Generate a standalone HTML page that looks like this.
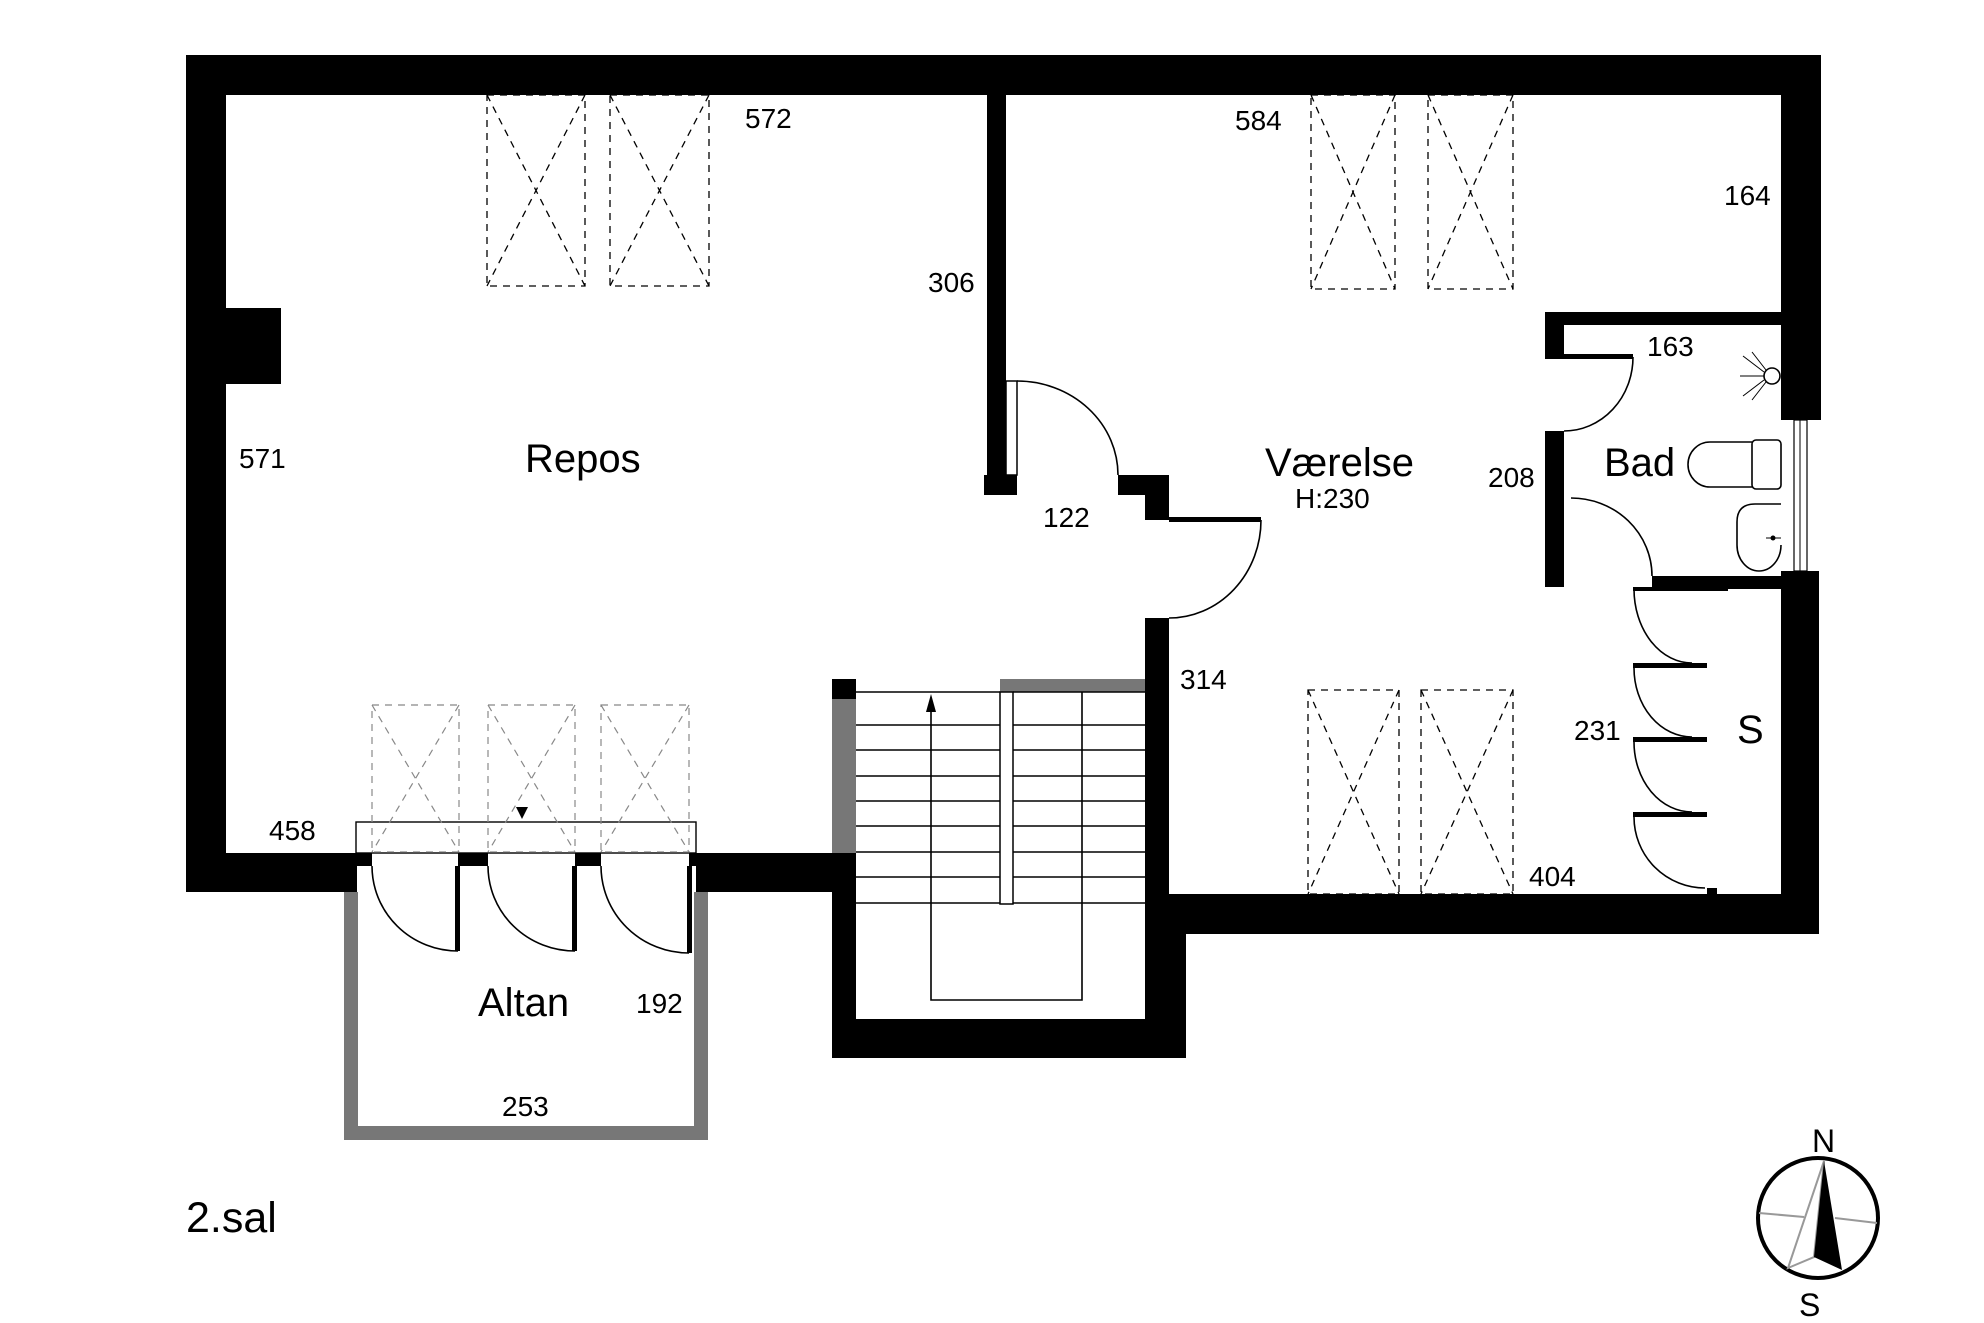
<!DOCTYPE html>
<html><head><meta charset="utf-8"><style>
html,body{margin:0;padding:0;background:#fff;}
svg{display:block;}
text{font-family:"Liberation Sans",Arial,sans-serif;fill:#000;}
</style></head><body>
<svg width="1984" height="1323" viewBox="0 0 1984 1323" xmlns="http://www.w3.org/2000/svg">
<rect width="1984" height="1323" fill="#fff"/>
<g fill="#000">
<!-- outer top -->
<rect x="186" y="55" width="1635" height="40"/>
<!-- left wall -->
<rect x="186" y="55" width="40" height="837"/>
<rect x="226" y="308" width="55" height="76"/>
<!-- bottom left wall -->
<rect x="186" y="853" width="171" height="39"/>
<rect x="354" y="853" width="18" height="13"/>
<rect x="458" y="853" width="30" height="13"/>
<rect x="575" y="853" width="26" height="13"/>
<rect x="689" y="853" width="8" height="13"/>
<rect x="696" y="853" width="160" height="39"/>
<!-- door leaves altan -->
<rect x="455" y="866" width="5" height="85"/>
<rect x="572" y="866" width="5" height="85"/>
<rect x="687" y="866" width="5" height="87"/>
<!-- right wall -->
<rect x="1781" y="55" width="40" height="365"/>
<rect x="1781" y="571" width="38" height="363"/>
<!-- interior wall repos/vaerelse -->
<rect x="987" y="95" width="19" height="400"/>
<rect x="984" y="475" width="33" height="20"/>
<rect x="1118" y="475" width="51" height="20"/>
<rect x="1145" y="495" width="24" height="25"/>
<rect x="1169" y="517" width="92" height="5"/>
<rect x="1145" y="618" width="24" height="316"/>
<rect x="1145" y="934" width="41" height="124"/>
<!-- bottom wall vaerelse -->
<rect x="1169" y="894" width="650" height="40"/>
<!-- stair -->
<rect x="832" y="679" width="24" height="20"/>
<rect x="832" y="853" width="24" height="205"/>
<rect x="832" y="1019" width="354" height="39"/>
<!-- bad walls -->
<rect x="1545" y="312" width="236" height="13"/>
<rect x="1545" y="312" width="19" height="45"/>
<rect x="1545" y="354" width="88" height="5"/>
<rect x="1545" y="431" width="19" height="156"/>
<rect x="1652" y="576" width="129" height="13"/>
<rect x="1633" y="587" width="95" height="4"/>
<rect x="1707" y="888" width="10" height="7"/>
<!-- closet bars -->
<rect x="1633" y="663" width="74" height="5"/>
<rect x="1633" y="737" width="74" height="5"/>
<rect x="1633" y="812" width="74" height="5"/>
<rect x="1006" y="381" width="11" height="94" fill="#fff" stroke="#000" stroke-width="1.5"/>
</g>
<!-- gray walls -->
<g fill="#777">
<rect x="832" y="699" width="24" height="154"/>
<rect x="1000" y="679" width="145" height="13"/>
<rect x="344" y="892" width="14" height="248"/>
<rect x="694" y="892" width="14" height="248"/>
<rect x="344" y="1126" width="364" height="14"/>
</g>
<rect x="1000" y="692" width="13" height="212" fill="#fff" stroke="#000" stroke-width="1.5"/>
<!-- door arcs -->
<g fill="none" stroke="#000" stroke-width="1.6">
<path d="M372,866 A86,85 0 0 0 458,951"/>
<path d="M488,866 A87,85 0 0 0 575,951"/>
<path d="M601,866 A88,87 0 0 0 689,953"/>
<path d="M1017,381 A101,94 0 0 1 1118,475"/>
<path d="M1261,520 A92,98 0 0 1 1169,618"/>
<path d="M1633,357 A69,74 0 0 1 1564,431"/>
<path d="M1571,498 A81,78 0 0 1 1652,576"/>
<path d="M1634,589 A58,74 0 0 0 1692,663"/>
<path d="M1634,668 A58,69 0 0 0 1692,737"/>
<path d="M1634,742 A58,70 0 0 0 1692,812"/>
<path d="M1634,817 A71,71 0 0 0 1705,888"/>
<rect x="1794" y="420" width="13" height="151" stroke-width="1.2"/>
<line x1="1800" y1="420" x2="1800" y2="571" stroke-width="1"/>
<!-- threshold -->
<rect x="356" y="822" width="340" height="31" stroke-width="1.4"/>
<!-- stairs -->
<g stroke-width="1.6">
<line x1="856" y1="692" x2="1000" y2="692"/>
<line x1="1013" y1="692" x2="1145" y2="692"/>
<path d="M856,725H1000M856,750H1000M856,776H1000M856,801H1000M856,826H1000M856,852H1000M856,877H1000M856,903H1000"/>
<path d="M1013,725H1145M1013,750H1145M1013,776H1145M1013,801H1145M1013,826H1145M1013,852H1145M1013,877H1145M1013,903H1145"/>
<path d="M931,703V1000H1082V692"/>
</g>
<!-- toilet/sink -->
<rect x="1752" y="440" width="29" height="49" rx="4"/>
<path d="M1752,442 H1710 A22,22.5 0 0 0 1710,487 H1752"/>
<path d="M1781,504 H1755 Q1737,504 1737,522 V545 A22,26 0 0 0 1781,545"/>
<!-- shower -->
<circle cx="1772" cy="376" r="8"/>
<path d="M1764,376H1740M1764,372L1743,356M1764,380L1743,396M1766,370L1752,352M1766,382L1752,400" stroke-width="1"/>
</g>
<circle cx="1771" cy="510" r="0" />
<circle cx="1773" cy="538" r="2.5" fill="#000"/>
<line x1="1766" y1="538" x2="1781" y2="538" stroke="#000" stroke-width="1"/>
<!-- arrow stair -->
<polygon points="931,694 926,712 936,712" fill="#000"/>
<polygon points="516,807 528,807 522,819" fill="#000"/>
<!-- skylights -->
<g fill="none" stroke="#000" stroke-width="1.3" stroke-dasharray="7,6">
<rect x="487" y="95" width="98" height="191"/><path d="M487,95L585,286M585,95L487,286"/>
<rect x="610" y="95" width="99" height="191"/><path d="M610,95L709,286M709,95L610,286"/>
<rect x="1311" y="95" width="84" height="194"/><path d="M1311,95L1395,289M1395,95L1311,289"/>
<rect x="1428" y="95" width="85" height="194"/><path d="M1428,95L1513,289M1513,95L1428,289"/>
<rect x="1308" y="690" width="91" height="204"/><path d="M1308,690L1399,894M1399,690L1308,894"/>
<rect x="1421" y="690" width="92" height="204"/><path d="M1421,690L1513,894M1513,690L1421,894"/>
</g>
<g fill="none" stroke="#888" stroke-width="1.2" stroke-dasharray="7,6">
<rect x="372" y="705" width="87" height="147"/><path d="M372,705L459,852M459,705L372,852"/>
<rect x="488" y="705" width="87" height="147"/><path d="M488,705L575,852M575,705L488,852"/>
<rect x="601" y="705" width="88" height="147"/><path d="M601,705L689,852M689,705L601,852"/>
</g>
<!-- compass -->
<circle cx="1818" cy="1218" r="60" fill="none" stroke="#000" stroke-width="4"/>
<g stroke="#999" stroke-width="2" fill="none">
<path d="M1759,1213L1804,1217M1835,1218L1877,1223"/>
<path d="M1824,1161L1788,1268L1814,1257Z"/>
</g>
<polygon points="1824,1161 1842,1270 1814,1257" fill="#000"/>
<!-- labels -->
<g font-size="28">
<text x="745" y="128">572</text>
<text x="928" y="292">306</text>
<text x="239" y="468">571</text>
<text x="1235" y="130">584</text>
<text x="1724" y="205">164</text>
<text x="1647" y="356">163</text>
<text x="1488" y="487">208</text>
<text x="1043" y="527">122</text>
<text x="1180" y="689">314</text>
<text x="1574" y="740">231</text>
<text x="1529" y="886">404</text>
<text x="269" y="840">458</text>
<text x="636" y="1013">192</text>
<text x="502" y="1116">253</text>
<text x="1295" y="508">H:230</text>
</g>
<g font-size="40">
<text x="525" y="472">Repos</text>
<text x="1265" y="476">Værelse</text>
<text x="1604" y="476">Bad</text>
<text x="1737" y="743">S</text>
<text x="478" y="1016">Altan</text>
<text x="186" y="1232" font-size="43">2.sal</text>
</g>
<text x="1812" y="1152" font-size="32">N</text>
<text x="1799" y="1316" font-size="32">S</text>
</svg>
</body></html>
